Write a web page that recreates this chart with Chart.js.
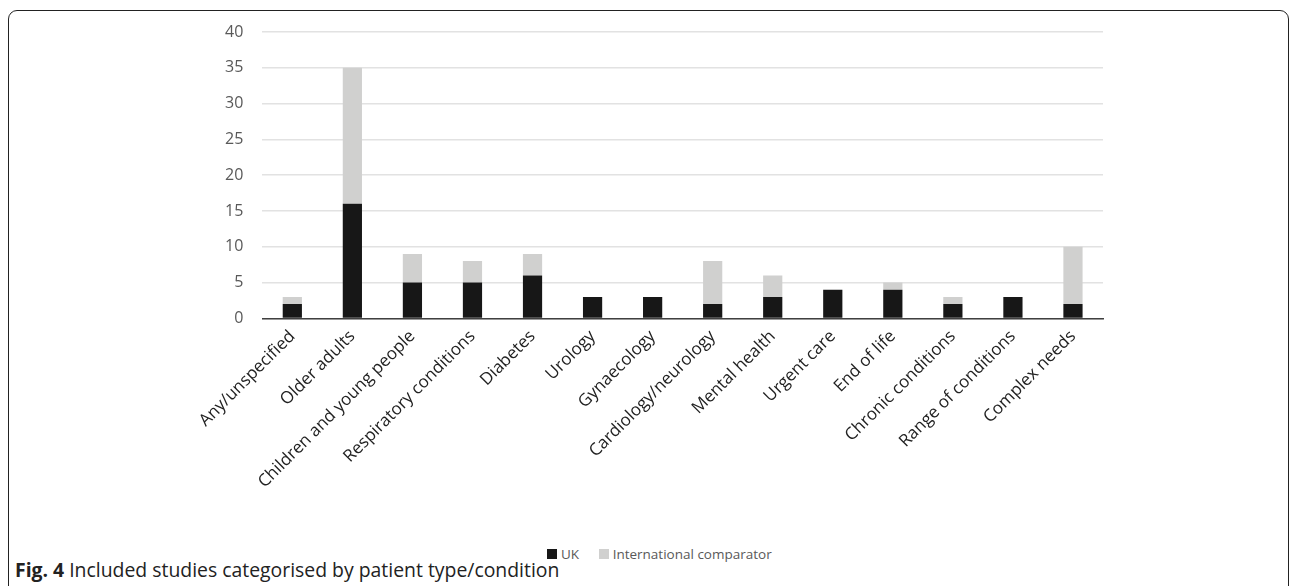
<!DOCTYPE html>
<html lang="en">
<head>
  <meta charset="UTF-8">
  <title>Fig. 4</title>
  <script src="https://cdn.jsdelivr.net/npm/chart.js"></script>
  <style>
    body { margin: 0; background: #fff; width: 1290px; height: 586px; overflow: hidden; position: relative; }
    .frame {
      position: absolute; left: 8px; top: 10px; width: 1281px; height: 640px;
      border: 1.5px solid #222; border-radius: 9px; box-sizing: border-box;
    }
    .grafico { position: absolute; left: 0; top: 0; width: 1290px; height: 545px; }
    .legenda {
      position: absolute; top: 545px; left: 547px; font-family: 'Open Sans', sans-serif;
      font-size: 13.5px; color: #595959; white-space: nowrap;
    }
    .legenda span.box { display: inline-block; width: 10px; height: 10px; margin-right: 4px; vertical-align: 0px; }
    .caption {
      position: absolute; left: 15px; top: 556px; font-family: 'Open Sans', sans-serif;
      font-size: 19.4px; color: #222; white-space: nowrap;
    }
  </style>
</head>
<body>
  <div class="frame"></div>
  <div class="grafico"><canvas id="myChart"></canvas></div>
  <div class="legenda">
    <span class="box" style="background:#171717"></span>UK
    <span class="box" style="background:#d0d0cf; margin-left: 16px"></span>International comparator
  </div>
  <div class="caption"><b>Fig. 4</b> Included studies categorised by patient type/condition</div>

<script>
  // categorias e valores
  const categorias = ['Any/unspecified', 'Older adults', 'Children and young people', 'Respiratory conditions',
    'Diabetes', 'Urology', 'Gynaecology', 'Cardiology/neurology', 'Mental health', 'Urgent care',
    'End of life', 'Chronic conditions', 'Range of conditions', 'Complex needs'];
  const valoresUK = [2, 16, 5, 5, 6, 3, 3, 2, 3, 4, 4, 2, 3, 2];
  const valoresInternacional = [1, 19, 4, 3, 3, 0, 0, 6, 3, 0, 1, 1, 0, 8];
  const ticksY = [0, 5, 10, 15, 20, 25, 30, 35, 40];

  const dados = {
    labels: categorias,
    datasets: [{
      label: 'UK',
      data: valoresUK,
      backgroundColor: '#171717',
      barPercentage: 0.32,
      categoryPercentage: 1
    }, {
      label: 'International comparator',
      data: valoresInternacional,
      backgroundColor: '#d0d0cf',
      barPercentage: 0.32,
      categoryPercentage: 1
    }]
  };

  const config = {
    type: 'bar',
    data: dados,
    options: {
      responsive: false,
      animation: false,
      layout: { padding: { left: 206, right: 187, top: 32, bottom: 45 } },
      plugins: { legend: { display: false }, tooltip: { enabled: false } },
      scales: {
        x: {
          stacked: true,
          grid: { display: false, drawTicks: false },
          border: { color: '#404040', width: 1.5 },
          ticks: {
            minRotation: 45, maxRotation: 45, padding: 8,
            color: '#222', font: { family: "'Open Sans', sans-serif", size: 17 }
          }
        },
        y: {
          stacked: true,
          min: 0, max: 40,
          afterBuildTicks: function (axis) { axis.ticks = ticksY.map(v => ({ value: v })); },
          grid: { color: '#e2e2e2', lineWidth: 1.5, drawTicks: false },
          border: { display: false },
          ticks: {
            padding: 19,
            color: '#595959', font: { family: "'Open Sans', sans-serif", size: 16 }
          }
        }
      }
    }
  };

  const canvas = document.getElementById('myChart');
  canvas.width = 1290;
  canvas.height = 545;
  new Chart(canvas, config);
</script>
</body>
</html>
